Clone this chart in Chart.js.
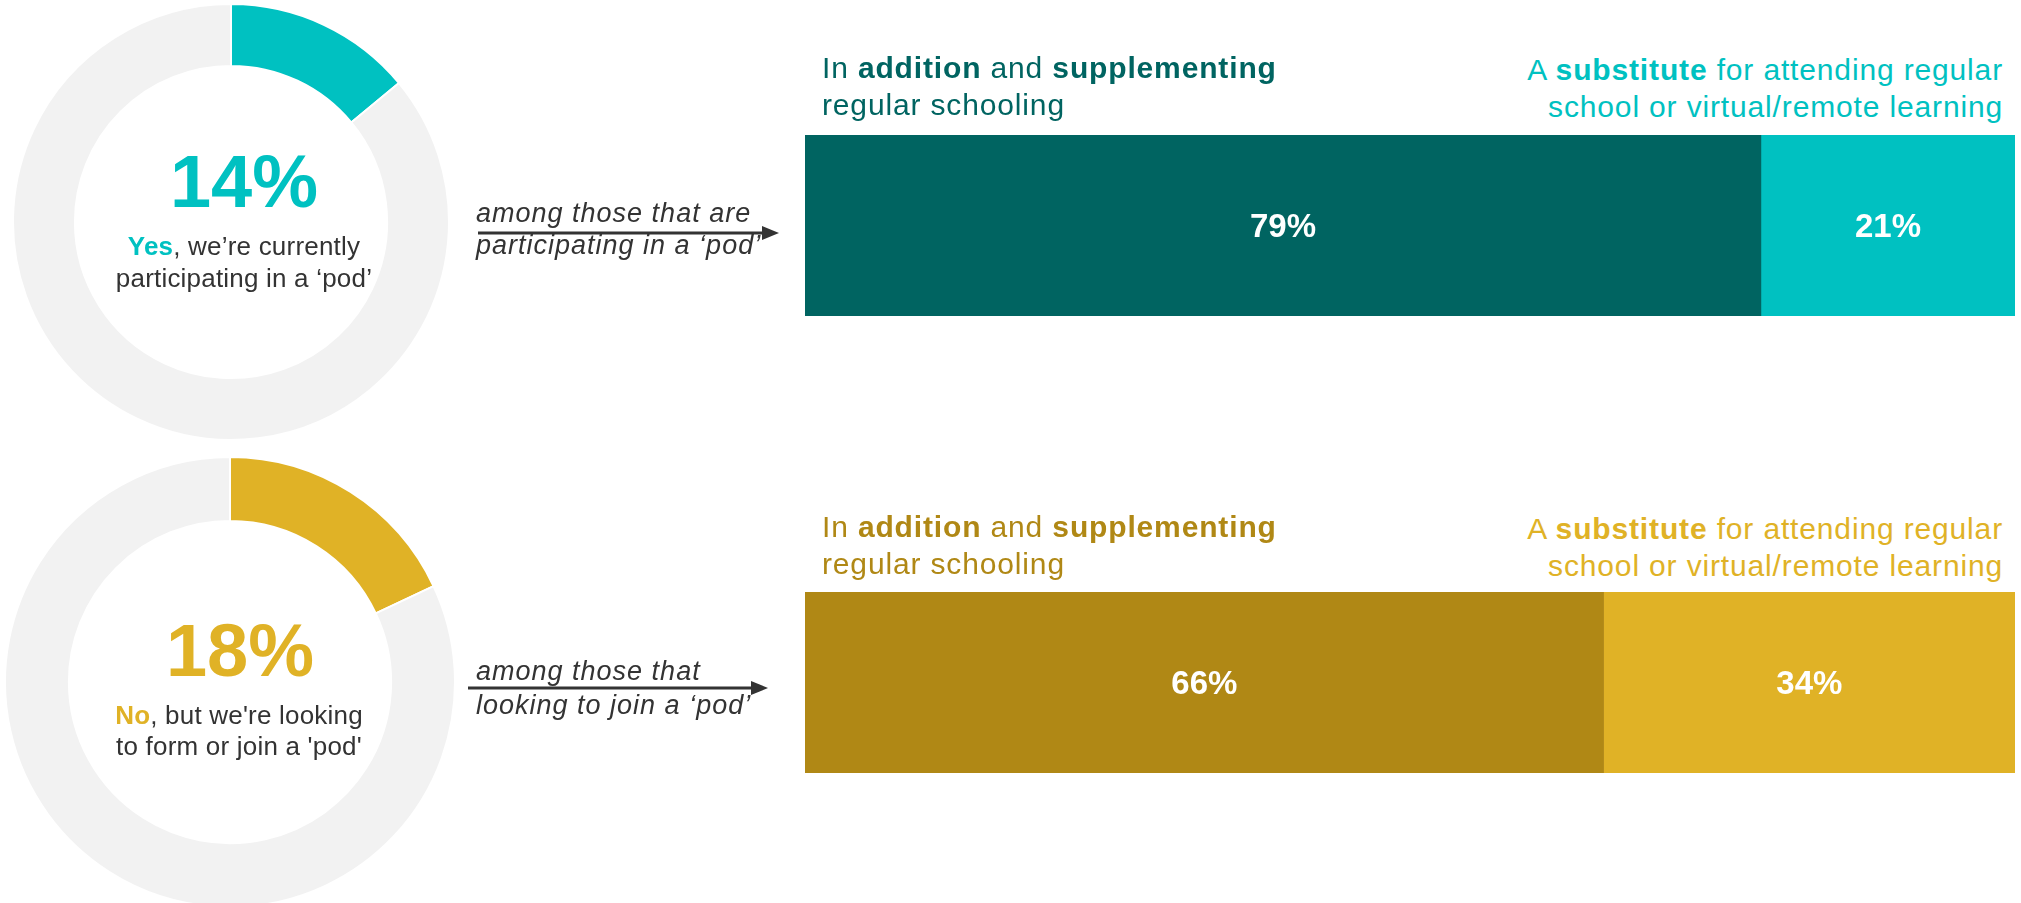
<!DOCTYPE html>
<html>
<head>
<meta charset="utf-8">
<script src="https://cdn.jsdelivr.net/npm/chart.js@4/dist/chart.umd.min.js"></script>
<style>
  html, body { margin: 0; padding: 0; background: #fff; }
  body { width: 2021px; height: 903px; overflow: hidden; position: relative;
         font-family: "Liberation Sans", Arial, sans-serif; color: #333; }
  .abs { position: absolute; }
  .big { font-weight: bold; font-size: 74px; line-height: 77px; text-align: center; width: 320px; }
  .sub { font-size: 26px; letter-spacing: 0.2px; text-align: center; width: 320px; white-space: nowrap; }
  .note { font-style: italic; font-size: 27px; letter-spacing: 1px; color: #333; white-space: nowrap; }
  .head { font-size: 30px; line-height: 37px; letter-spacing: 0.85px; white-space: nowrap; }
  .head b { font-weight: bold; }
  canvas { display: block; }
</style>
</head>
<body>

<!-- donuts -->
<div class="abs" style="left:12px; top:3px;"><canvas id="donutYes" width="438" height="438"></canvas></div>
<div class="abs" style="left:4px; top:456px;"><canvas id="donutNo" width="452" height="452"></canvas></div>

<div class="abs big" style="left:84px; top:143px; color:#00c1c1;">14%</div>
<div class="abs sub" style="left:84px; top:230px; line-height:32px;"><b style="color:#00c1c1">Yes</b>, we’re currently<br>participating in a ‘pod’</div>

<div class="abs big" style="left:80px; top:612px; color:#e0b226;">18%</div>
<div class="abs sub" style="left:79px; top:700px; line-height:31px;"><b style="color:#e0b226">No</b>, but we're looking<br>to form or join a 'pod'</div>

<!-- arrows -->
<svg class="abs" style="left:0; top:0;" width="900" height="903">
  <line x1="478" y1="233" x2="764" y2="233" stroke="#333" stroke-width="3"/>
  <polygon points="762,226 779,233 762,240" fill="#333"/>
  <line x1="468" y1="688" x2="753" y2="688" stroke="#333" stroke-width="3"/>
  <polygon points="751,681 768,688 751,695" fill="#333"/>
</svg>
<div class="abs note" style="left:476px; top:197px; line-height:32px;">among those that are<br>participating in a ‘pod’</div>
<div class="abs note" style="left:476px; top:654px; line-height:34px;">among those that<br>looking to join a ‘pod’</div>

<!-- bar headers -->
<div class="abs head" style="left:822px; top:49px; color:#006461;">In <b>addition</b> and <b>supplementing</b><br>regular schooling</div>
<div class="abs head" style="right:18px; top:51px; color:#00c1c1; text-align:right;">A <b>substitute</b> for attending regular<br>school or virtual/remote learning</div>
<div class="abs head" style="left:822px; top:508px; color:#b08815;">In <b>addition</b> and <b>supplementing</b><br>regular schooling</div>
<div class="abs head" style="right:18px; top:510px; color:#e0b226; text-align:right;">A <b>substitute</b> for attending regular<br>school or virtual/remote learning</div>

<!-- bars -->
<div class="abs" style="left:805px; top:135px;"><canvas id="barYes" width="1210" height="181"></canvas></div>
<div class="abs" style="left:805px; top:592px;"><canvas id="barNo" width="1210" height="181"></canvas></div>

<script>
// ── Data ───────────────────────────────────────────────────
const donutLabels  = ['Yes, currently participating in a pod', 'No, but looking to form or join a pod'];
const donutValues  = [14, 18];
const splitLabels  = ['In addition and supplementing regular schooling',
                      'A substitute for attending regular school or virtual/remote learning'];
const participatingSplit = [79, 21];
const lookingSplit       = [66, 34];

const GREY = '#f2f2f2';

// ── Doughnuts ──────────────────────────────────────────────
function drawDonut(id, value, color) {
    new Chart(document.getElementById(id), {
        type: 'doughnut',
        data: {
            labels: ['share', 'rest'],
            datasets: [{
                data: [value, 100 - value],
                backgroundColor: [color, GREY],
                borderColor: '#ffffff',
                borderWidth: 2,
                hoverOffset: 0
            }]
        },
        options: {
            responsive: false,
            animation: false,
            cutout: '71.6%',
            layout: { padding: 0 },
            plugins: { legend: { display: false }, tooltip: { enabled: false } }
        }
    });
}

drawDonut('donutYes', donutValues[0], '#00c1c1');
drawDonut('donutNo',  donutValues[1], '#e0b226');

// ── Value labels inside bar segments ───────────────────────
const segmentLabels = {
    id: 'segmentLabels',
    afterDatasetsDraw(chart) {
        const ctx = chart.ctx;
        ctx.save();
        ctx.fillStyle = '#ffffff';
        ctx.font = 'bold 33px "Liberation Sans", Arial, sans-serif';
        ctx.textAlign = 'center';
        ctx.textBaseline = 'middle';
        chart.data.datasets.forEach((ds, i) => {
            chart.getDatasetMeta(i).data.forEach((bar, j) => {
                const cx = (bar.x + bar.base) / 2;
                ctx.fillText(ds.data[j] + '%', cx, bar.y + 2);
            });
        });
        ctx.restore();
    }
};

// ── 100% stacked bars ──────────────────────────────────────
function drawSplit(id, values, colors) {
    new Chart(document.getElementById(id), {
        type: 'bar',
        data: {
            labels: [''],
            datasets: values.map((v, i) => ({
                label: splitLabels[i],
                data: [v],
                backgroundColor: colors[i],
                borderWidth: 0,
                barPercentage: 1,
                categoryPercentage: 1
            }))
        },
        options: {
            indexAxis: 'y',
            responsive: false,
            animation: false,
            layout: { padding: 0 },
            scales: {
                x: { stacked: true, min: 0, max: 100, display: false },
                y: { stacked: true, display: false }
            },
            plugins: { legend: { display: false }, tooltip: { enabled: false } }
        },
        plugins: [segmentLabels]
    });
}

drawSplit('barYes', participatingSplit, ['#006461', '#00c1c1']);
drawSplit('barNo',  lookingSplit,       ['#b08815', '#e0b226']);
</script>
</body>
</html>
